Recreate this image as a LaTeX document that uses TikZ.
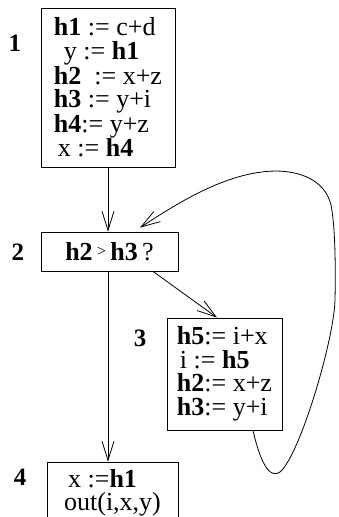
\documentclass[tikz,border=0pt]{standalone}
\usepackage{fontspec}
\setmainfont{Liberation Serif}
\usetikzlibrary{arrows.meta}
\begin{document}
\begin{tikzpicture}[x=1pt,y=-1pt,
  box/.style={draw, line width=0.8pt, inner sep=0pt, align=left, font=\fontsize{26}{23.5}\selectfont},
  lbl/.style={font=\fontsize{25}{25}\selectfont\bfseries},
  arr/.style={-{Straight Barb[length=19pt,width=12pt]}, line width=0.8pt}]
\useasboundingbox (0,0) rectangle (338,517);
\begin{scope}
\clip (0,0) rectangle (338,517);
\node[box, minimum width=134pt, minimum height=159pt] (b1) at (108,87.5)
  {\textbf{h1} := c+d\\\hspace{10pt}y := \textbf{h1}\\\textbf{h2}\ \ := x+z\\\textbf{h3} := y+i\\\textbf{h4}:= y+z\\\hspace{4pt}x := \textbf{h4}};
\node[box, minimum width=137pt, minimum height=39pt, align=center] (b2) at (109.5,251.5)
  {\textbf{h2}\,\raisebox{4pt}{\fontsize{16}{16}\selectfont >}\,\textbf{h3}\,?};
\node[box, minimum width=115pt, minimum height=112pt] (b3) at (224.5,374)
  {\textbf{h5}:= i+x\\\hspace{3pt}i := \textbf{h5}\\\textbf{h2}:= x+z\\\textbf{h3}:= y+i};
\node[box, minimum width=131pt, minimum height=62pt] (b4) at (112.5,493)
  {\hspace{4pt}x :=\textbf{h1}\\out(i,x,y)};
\end{scope}
\node[lbl] (l1) at (15,43) {1};
\node[lbl] (l2) at (18,252) {2};
\node[lbl] (l3) at (140,338) {3};
\node[lbl] (l4) at (20,477) {4};
\draw[arr] (b1.south) -- (b1.south |- b2.north);
\draw[arr] (b1.south |- b2.south) -- (b1.south |- b4.north);
\draw[arr] ([xshift=43.5pt]b2.south) -- ([xshift=-7.5pt]b3.north);
\draw[arr] ([xshift=28.5pt]b3.south) .. controls (262,470) and (272,478) .. (280,472)
  .. controls (300,455) and (334,340) .. (335,300)
  .. controls (336,250) and (334,220) .. (331,205)
  .. controls (325,180) and (300,171) .. (275,171)
  .. controls (225,172) and (175,205) .. ([xshift=30.5pt,yshift=4pt]b2.north);
\end{tikzpicture}
\end{document}
